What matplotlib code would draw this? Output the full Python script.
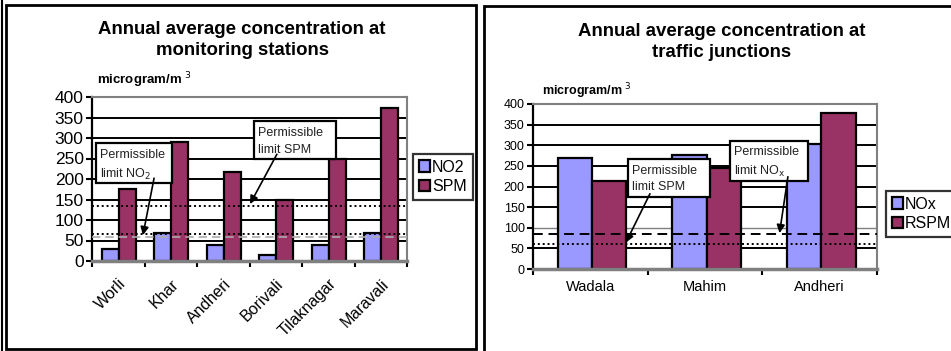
"""Annual average concentration at monitoring stations and traffic junctions."""

import matplotlib
matplotlib.use("Agg")
import matplotlib.pyplot as plt
from matplotlib.patches import Rectangle
from matplotlib.lines import Line2D
import numpy as np

plt.rcParams["font.family"] = ["Liberation Sans", "DejaVu Sans"]

# Monitoring stations
stations = ["Worli", "Khar", "Andheri", "Borivali", "Tilaknagar", "Maravali"]
station_no2 = [30, 68, 40, 15, 40, 68]
station_spm = [175, 290, 218, 148, 250, 373]
station_limit_no2 = 67
station_limit_no2_ref = 58
station_limit_spm = 135

# Traffic junctions
junctions = ["Wadala", "Mahim", "Andheri"]
junction_nox = [268, 277, 302]
junction_rspm = [213, 245, 378]
junction_limit_nox = 85
junction_limit_spm = 60

yticks = [0, 50, 100, 150, 200, 250, 300, 350, 400]

C_NO = "#9999FF"
C_PM = "#993366"
W, H = 951, 351


def fig_rect(x0, y0, x1, y1):
    """Pixel box (top-left origin) to figure fraction [l, b, w, h]."""
    return [x0 / W, 1 - y1 / H, (x1 - x0) / W, (y1 - y0) / H]


def style_axes(ax, n, ytick_size, grey_grid=()):
    ax.set_xlim(-0.5, n - 0.5)
    ax.set_ylim(0, 400)
    ax.set_yticks(yticks)
    ax.tick_params(axis="y", labelsize=ytick_size, length=4, width=1.5, pad=2)
    for v in yticks[1:-1]:
        col, lw = ("#808080", 1.0) if v in grey_grid else ("black", 1.4)
        ax.axhline(v, color=col, lw=lw, zorder=0.5)
    for s in ("top", "right"):
        ax.spines[s].set_color("#808080")
        ax.spines[s].set_linewidth(1.5)
    ax.spines["bottom"].set_color("#808080")
    ax.spines["bottom"].set_linewidth(2.5)
    ax.spines["left"].set_linewidth(1.6)
    ax.set_xticks(np.arange(n))
    ax.set_xticks(np.arange(n + 1) - 0.5, minor=True)
    ax.tick_params(axis="x", which="major", length=0)
    ax.tick_params(axis="x", which="minor", length=4, width=1.5, direction="out")


def note_box(ax, x0, y0, x1, y1, lines, tail, head):
    ax.add_patch(Rectangle((x0, y0), x1 - x0, y1 - y0, transform=ax.transAxes,
                           facecolor="white", edgecolor="black", lw=1.6,
                           zorder=5, clip_on=False))
    ax.text(x0 + 0.012, y1 - 0.035, lines, transform=ax.transAxes, fontsize=9,
            color="#222222", va="top", ha="left", linespacing=1.5, zorder=6)
    ax.annotate("", xy=head, xycoords="data", xytext=tail, textcoords="axes fraction",
                arrowprops=dict(arrowstyle="-|>", color="black", lw=1.2,
                                mutation_scale=12, shrinkA=0, shrinkB=0),
                zorder=7)


def add_legend(ax, x0, y0):
    leg = ax.legend(loc="upper left", bbox_to_anchor=(x0 / W, 1 - y0 / H),
                    bbox_transform=fig.transFigure, fontsize=11.5, frameon=True,
                    fancybox=False, edgecolor="black", handlelength=0.7,
                    handleheight=0.7, handletextpad=0.15, borderpad=0.35,
                    labelspacing=0.3, borderaxespad=0)
    leg.get_frame().set_linewidth(1.6)


fig = plt.figure(figsize=(W / 100, H / 100), dpi=100)

# Panel frames
fig.patches.append(Rectangle((6 / W, 1 - 349 / H), 470 / W, 344 / H,
                             transform=fig.transFigure, fill=False,
                             edgecolor="black", lw=2))
fig.lines.append(Line2D([1.5 / W, 1.5 / W], [0, 1], transform=fig.transFigure,
                        color="black", lw=1.5))
fig.patches.append(Rectangle((484 / W, 1 - 360 / H), 480 / W, 354 / H,
                             transform=fig.transFigure, fill=False,
                             edgecolor="black", lw=2))

# ---- left chart ----
ax1 = fig.add_axes(fig_rect(92, 97, 407, 261))
x = np.arange(len(stations))
bw = 0.32
ax1.bar(x - 0.15, station_no2, bw, color=C_NO, edgecolor="black", lw=1.6,
        label="NO2", zorder=2)
ax1.bar(x + 0.17, station_spm, bw, color=C_PM, edgecolor="black", lw=1.6,
        label="SPM", zorder=2)
style_axes(ax1, len(stations), 12.5)
ax1.set_xticklabels(stations, rotation=45, ha="right", va="top",
                    rotation_mode="anchor", fontsize=11.5)
ax1.tick_params(axis="x", which="major", pad=11)
ax1.axhline(station_limit_no2_ref, color="#aaaaaa", lw=1.2, ls=(0, (5, 3)), zorder=3)
ax1.axhline(station_limit_no2, color="black", lw=1.4, ls=(0, (1, 1.5)), zorder=3)
ax1.axhline(station_limit_spm, color="black", lw=1.4, ls=(0, (1, 1.5)), zorder=3)

note_box(ax1, 0.013, 0.475, 0.254, 0.718, "Permissible\nlimit NO$_2$",
         (0.197, 0.505), (0.47, station_limit_no2 - 4))
note_box(ax1, 0.514, 0.621, 0.775, 0.851, "Permissible\nlimit SPM",
         (0.587, 0.651), (2.51, station_limit_spm + 4))

add_legend(ax1, 413, 154)

fig.text(242 / W, 1 - 40 / H, "Annual average concentration at\nmonitoring stations",
         ha="center", va="center", fontsize=13.4, fontweight="bold", linespacing=1.3)
fig.text(97 / W, 1 - 80 / H, "microgram/m $^{3}$", ha="left", va="center",
         fontsize=9.5, fontweight="bold")

# ---- right chart ----
ax2 = fig.add_axes(fig_rect(533, 104, 877, 269))
x = np.arange(len(junctions))
bw = 0.3
ax2.bar(x - 0.135, junction_nox, bw, color=C_NO, edgecolor="black", lw=1.6,
        label="NOx", zorder=2)
ax2.bar(x + 0.165, junction_rspm, bw, color=C_PM, edgecolor="black", lw=1.6,
        label="RSPM", zorder=2)
style_axes(ax2, len(junctions), 9, grey_grid=(100,))
ax2.set_xticklabels(junctions, fontsize=10.5)
ax2.tick_params(axis="x", which="major", pad=8)
ax2.axhline(junction_limit_nox, color="black", lw=1.4, ls=(0, (5, 3)), zorder=3)
ax2.axhline(junction_limit_spm, color="black", lw=1.4, ls=(0, (1, 1.5)), zorder=3)

note_box(ax2, 0.275, 0.438, 0.515, 0.668, "Permissible\nlimit SPM",
         (0.340, 0.456), (0.31, junction_limit_spm + 4))
note_box(ax2, 0.573, 0.535, 0.799, 0.778, "Permissible\nlimit NO$_\\mathrm{x}$",
         (0.741, 0.559), (1.65, junction_limit_nox + 2))

add_legend(ax2, 886, 191)

fig.text(722 / W, 1 - 42 / H, "Annual average concentration at\ntraffic junctions",
         ha="center", va="center", fontsize=13.4, fontweight="bold", linespacing=1.3)
fig.text(542 / W, 1 - 91 / H, "microgram/m $^{3}$", ha="left", va="center",
         fontsize=9, fontweight="bold")

fig.savefig("out.png", dpi=100)
